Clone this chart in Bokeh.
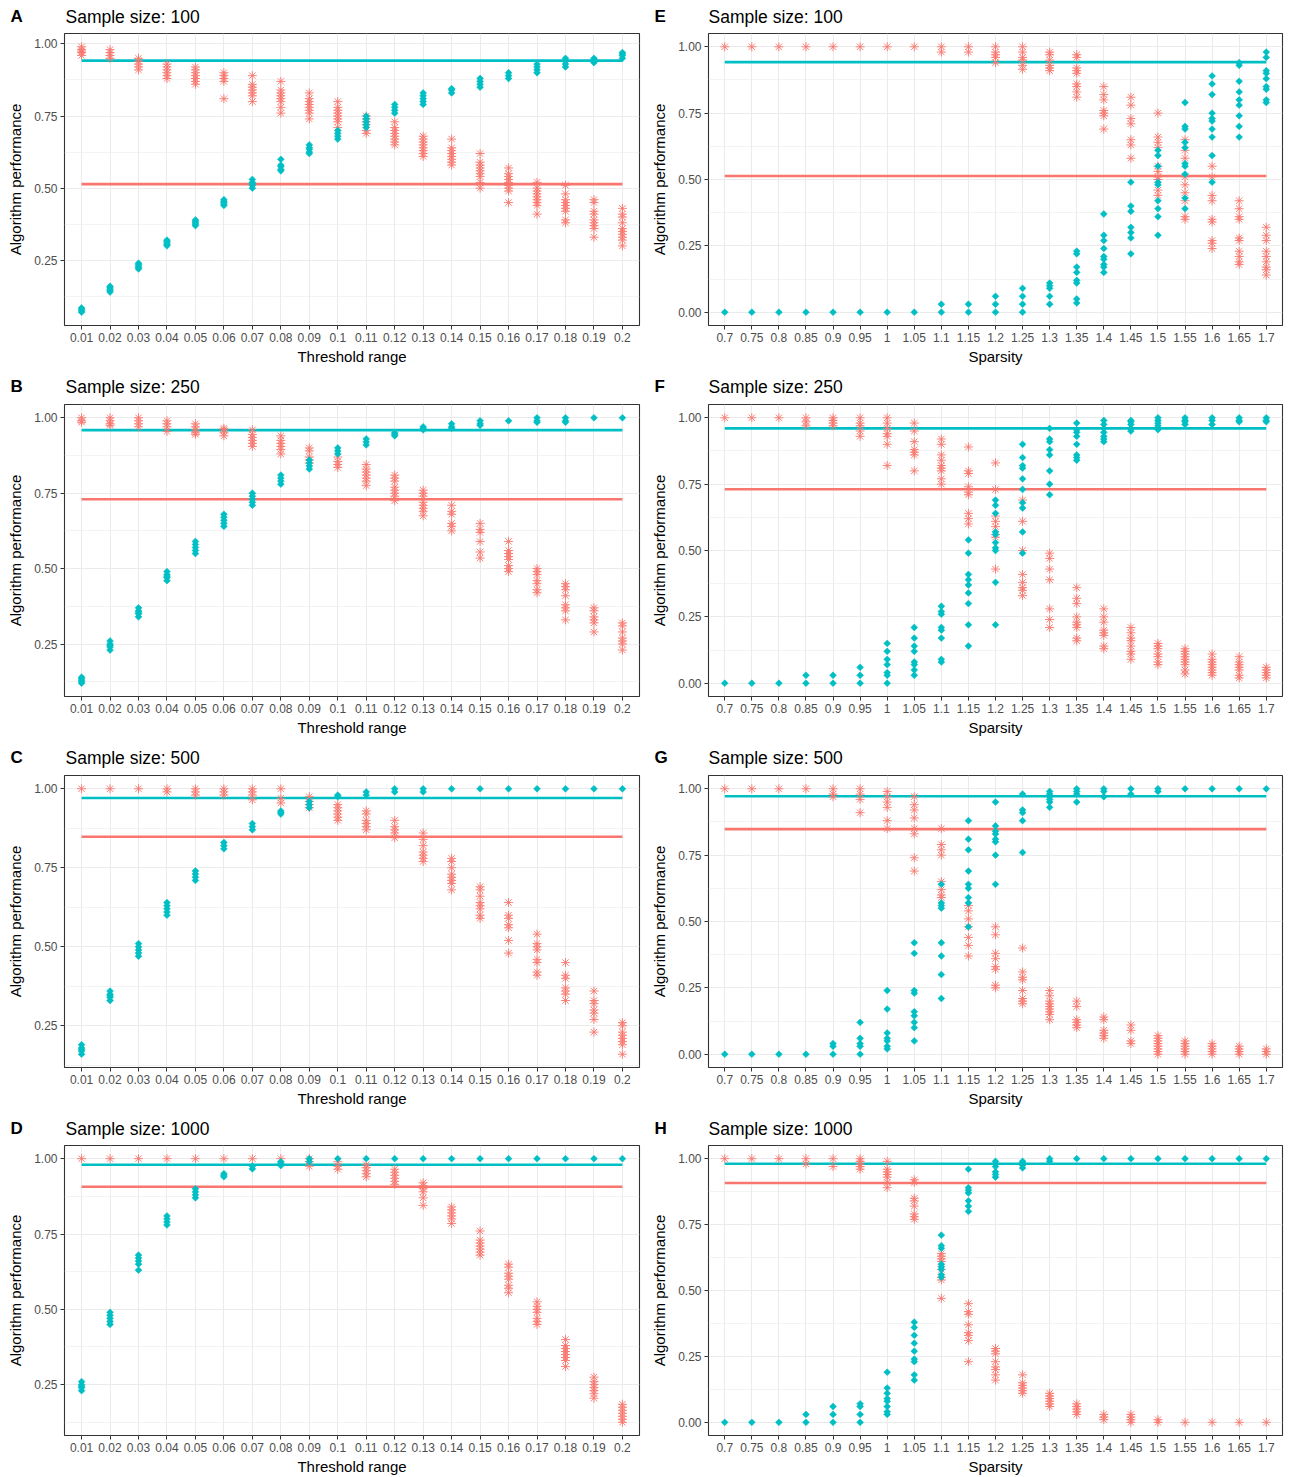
import math
from bokeh.plotting import figure
from bokeh.models import FactorRange, FixedTicker, Range1d, NumeralTickFormatter
from bokeh.layouts import column, row
from bokeh.embed import file_html
from bokeh.resources import INLINE
from bokeh.core.properties import value

# ---------------- data ----------------
thr_cats = ["0.01", "0.02", "0.03", "0.04", "0.05", "0.06", "0.07", "0.08", "0.09", "0.1",
            "0.11", "0.12", "0.13", "0.14", "0.15", "0.16", "0.17", "0.18", "0.19", "0.2"]
sp_cats = ["0.7", "0.75", "0.8", "0.85", "0.9", "0.95", "1", "1.05", "1.1", "1.15", "1.2",
           "1.25", "1.3", "1.35", "1.4", "1.45", "1.5", "1.55", "1.6", "1.65", "1.7"]

left_ticks = [0.25, 0.5, 0.75, 1.0]
left_tick_labels = ["0.25", "0.50", "0.75", "1.00"]
right_ticks = [0.0, 0.25, 0.5, 0.75, 1.0]
right_tick_labels = ["0.00", "0.25", "0.50", "0.75", "1.00"]
minor_ticks = [0.125, 0.375, 0.625, 0.875]

sample_sizes = ["100", "250", "500", "1000"]
left_letters = ["A", "B", "C", "D"]
right_letters = ["E", "F", "G", "H"]
thr_mean_cyan = [0.942, 0.959, 0.971, 0.980]
thr_mean_salmon = [0.514, 0.730, 0.848, 0.907]
sp_mean_cyan = [0.942, 0.960, 0.972, 0.981]
sp_mean_salmon = [0.513, 0.731, 0.848, 0.908]

A_cyan = [[0.07, 0.075, 0.08, 0.085], [0.14, 0.145, 0.15, 0.155, 0.16], [0.22, 0.225, 0.23, 0.235, 0.24],
          [0.30, 0.305, 0.31, 0.315, 0.32], [0.37, 0.375, 0.38, 0.385, 0.39], [0.44, 0.445, 0.45, 0.455, 0.46],
          [0.50, 0.51, 0.515, 0.52, 0.53], [0.56, 0.565, 0.575, 0.58, 0.60], [0.62, 0.625, 0.635, 0.64, 0.65],
          [0.67, 0.68, 0.69, 0.70], [0.71, 0.72, 0.73, 0.74, 0.75], [0.76, 0.77, 0.78, 0.79],
          [0.79, 0.80, 0.81, 0.82, 0.83], [0.83, 0.84, 0.845], [0.85, 0.86, 0.87, 0.88], [0.88, 0.89, 0.90],
          [0.90, 0.91, 0.92, 0.93], [0.92, 0.93, 0.94, 0.95], [0.935, 0.94, 0.945, 0.95], [0.95, 0.96, 0.965, 0.97]]
A_salmon = [[0.96, 0.97, 0.975, 0.98, 0.99], [0.95, 0.96, 0.97, 0.98], [0.91, 0.92, 0.93, 0.94, 0.95],
            [0.88, 0.89, 0.90, 0.91, 0.92, 0.93], [0.86, 0.87, 0.88, 0.89, 0.90, 0.91, 0.92],
            [0.81, 0.87, 0.88, 0.89, 0.90], [0.80, 0.82, 0.83, 0.84, 0.85, 0.86, 0.89],
            [0.76, 0.78, 0.80, 0.81, 0.82, 0.83, 0.84, 0.87], [0.74, 0.76, 0.77, 0.78, 0.79, 0.80, 0.81, 0.83],
            [0.71, 0.73, 0.74, 0.75, 0.76, 0.77, 0.78, 0.80], [0.69, 0.70, 0.72, 0.73, 0.74, 0.75],
            [0.65, 0.66, 0.67, 0.68, 0.69, 0.70, 0.71, 0.73], [0.61, 0.62, 0.63, 0.64, 0.65, 0.66, 0.67, 0.68],
            [0.58, 0.59, 0.60, 0.61, 0.62, 0.63, 0.64, 0.67], [0.50, 0.52, 0.54, 0.55, 0.56, 0.57, 0.58, 0.59, 0.62],
            [0.45, 0.49, 0.50, 0.51, 0.52, 0.53, 0.54, 0.55, 0.57], [0.41, 0.44, 0.45, 0.46, 0.47, 0.48, 0.49, 0.50, 0.52],
            [0.38, 0.39, 0.42, 0.43, 0.44, 0.45, 0.46, 0.48, 0.51], [0.33, 0.36, 0.37, 0.38, 0.39, 0.41, 0.42, 0.45, 0.46],
            [0.30, 0.32, 0.33, 0.34, 0.35, 0.36, 0.38, 0.40, 0.41, 0.43]]

B_cyan = [[0.12, 0.125, 0.13, 0.135, 0.14], [0.23, 0.24, 0.245, 0.25, 0.26], [0.34, 0.35, 0.355, 0.36, 0.37],
          [0.46, 0.47, 0.475, 0.48, 0.49], [0.55, 0.56, 0.57, 0.58, 0.59], [0.64, 0.65, 0.66, 0.67, 0.68],
          [0.71, 0.72, 0.73, 0.74, 0.75], [0.78, 0.79, 0.80, 0.81], [0.83, 0.84, 0.85, 0.86], [0.88, 0.89, 0.90],
          [0.91, 0.92, 0.93], [0.94, 0.945, 0.95], [0.96, 0.965, 0.97], [0.965, 0.97, 0.98], [0.975, 0.98, 0.99],
          [0.99], [0.985, 0.99, 1.0], [0.985, 0.99, 1.0], [1.0], [1.0]]
B_salmon = [[0.985, 0.99, 1.0], [0.975, 0.98, 0.99, 1.0], [0.97, 0.98, 0.99, 1.0], [0.955, 0.97, 0.98, 0.99],
            [0.945, 0.95, 0.96, 0.97, 0.98], [0.94, 0.95, 0.96, 0.965], [0.905, 0.915, 0.925, 0.935, 0.945, 0.96],
            [0.88, 0.895, 0.905, 0.915, 0.925, 0.94], [0.85, 0.86, 0.87, 0.89, 0.90], [0.835, 0.845, 0.855, 0.87],
            [0.775, 0.79, 0.80, 0.81, 0.82, 0.83, 0.845], [0.725, 0.74, 0.75, 0.76, 0.77, 0.79, 0.80, 0.81],
            [0.675, 0.69, 0.70, 0.71, 0.72, 0.74, 0.75, 0.76], [0.625, 0.64, 0.65, 0.68, 0.69, 0.71],
            [0.535, 0.555, 0.59, 0.62, 0.63, 0.65], [0.49, 0.50, 0.51, 0.53, 0.54, 0.55, 0.56, 0.59],
            [0.42, 0.43, 0.45, 0.46, 0.48, 0.49, 0.50], [0.33, 0.36, 0.37, 0.38, 0.41, 0.43, 0.44, 0.45],
            [0.29, 0.32, 0.33, 0.34, 0.36, 0.37], [0.23, 0.25, 0.26, 0.27, 0.29, 0.31, 0.32]]

C_cyan = [[0.16, 0.17, 0.175, 0.18, 0.19], [0.33, 0.34, 0.345, 0.35, 0.36], [0.47, 0.48, 0.49, 0.50, 0.51],
          [0.60, 0.61, 0.62, 0.63, 0.64], [0.71, 0.72, 0.73, 0.74], [0.81, 0.82, 0.83], [0.87, 0.88, 0.89],
          [0.92, 0.925, 0.93], [0.94, 0.95, 0.96], [0.975, 0.98], [0.98, 0.99], [0.99, 1.0], [0.99, 1.0],
          [1.0], [1.0], [1.0], [1.0], [1.0], [1.0], [1.0]]
C_salmon = [[1.0], [1.0], [1.0], [0.99, 1.0], [0.98, 0.99, 1.0], [0.98, 0.99, 1.0], [0.965, 0.98, 0.99, 1.0],
            [0.955, 0.97, 1.0], [0.94, 0.95, 0.96, 0.975], [0.90, 0.91, 0.92, 0.93, 0.94, 0.95],
            [0.87, 0.88, 0.89, 0.90, 0.92, 0.93], [0.845, 0.86, 0.87, 0.88, 0.90],
            [0.77, 0.78, 0.79, 0.80, 0.82, 0.84, 0.86], [0.68, 0.70, 0.71, 0.72, 0.73, 0.75, 0.77, 0.78],
            [0.59, 0.60, 0.62, 0.63, 0.64, 0.66, 0.68, 0.69], [0.48, 0.52, 0.56, 0.57, 0.59, 0.60, 0.64],
            [0.41, 0.42, 0.45, 0.46, 0.49, 0.50, 0.51, 0.54], [0.33, 0.35, 0.36, 0.37, 0.40, 0.41, 0.45],
            [0.23, 0.27, 0.29, 0.30, 0.32, 0.33, 0.36], [0.16, 0.19, 0.20, 0.21, 0.22, 0.23, 0.25, 0.26]]

D_cyan = [[0.23, 0.24, 0.245, 0.25, 0.26], [0.45, 0.46, 0.47, 0.48, 0.49], [0.63, 0.65, 0.66, 0.67, 0.68],
          [0.78, 0.79, 0.80, 0.81], [0.87, 0.88, 0.89, 0.90], [0.94, 0.945, 0.95], [0.966, 0.975],
          [0.977, 0.985, 0.99], [0.99, 1.0], [1.0], [1.0], [1.0], [1.0], [1.0], [1.0], [1.0], [1.0], [1.0],
          [1.0], [1.0]]
D_salmon = [[1.0], [1.0], [1.0], [1.0], [1.0], [1.0], [1.0], [1.0], [0.975, 0.99, 1.0], [0.965, 0.975, 0.99],
            [0.94, 0.95, 0.96, 0.97, 0.98], [0.915, 0.925, 0.935, 0.945, 0.955, 0.965],
            [0.845, 0.87, 0.89, 0.90, 0.91, 0.92], [0.785, 0.80, 0.81, 0.82, 0.83, 0.84],
            [0.68, 0.69, 0.70, 0.71, 0.72, 0.73, 0.76], [0.555, 0.57, 0.58, 0.60, 0.61, 0.62, 0.64, 0.65],
            [0.45, 0.46, 0.47, 0.49, 0.50, 0.51, 0.525], [0.31, 0.33, 0.34, 0.35, 0.36, 0.37, 0.38, 0.40],
            [0.205, 0.22, 0.23, 0.24, 0.25, 0.26, 0.275], [0.125, 0.135, 0.145, 0.155, 0.165, 0.175, 0.185]]

E_cyan = [[0.0], [0.0], [0.0], [0.0], [0.0], [0.0], [0.0], [0.0], [0.0, 0.03], [0.0, 0.03], [0.0, 0.03, 0.06],
          [0.0, 0.03, 0.06, 0.09], [0.03, 0.06, 0.09, 0.10, 0.11],
          [0.035, 0.05, 0.11, 0.12, 0.15, 0.17, 0.22, 0.23], [0.15, 0.17, 0.18, 0.20, 0.21, 0.24, 0.27, 0.29, 0.37],
          [0.22, 0.28, 0.30, 0.32, 0.38, 0.40, 0.49], [0.29, 0.36, 0.39, 0.42, 0.48, 0.49, 0.55, 0.59, 0.61],
          [0.39, 0.43, 0.52, 0.55, 0.56, 0.62, 0.64, 0.69, 0.70, 0.79],
          [0.49, 0.59, 0.66, 0.69, 0.72, 0.73, 0.75, 0.82, 0.86, 0.89],
          [0.66, 0.70, 0.74, 0.78, 0.80, 0.83, 0.87, 0.93, 0.94],
          [0.79, 0.80, 0.84, 0.85, 0.88, 0.90, 0.91, 0.96, 0.98]]
E_salmon = [[1.0], [1.0], [1.0], [1.0], [1.0], [1.0], [1.0], [1.0], [0.98, 1.0], [0.98, 1.0],
            [0.94, 0.96, 0.97, 0.98, 1.0], [0.915, 0.93, 0.95, 0.96, 0.98, 1.0], [0.91, 0.92, 0.93, 0.95, 0.97, 0.98],
            [0.81, 0.83, 0.85, 0.86, 0.90, 0.91, 0.92, 0.96, 0.97], [0.69, 0.74, 0.75, 0.76, 0.80, 0.82, 0.85],
            [0.58, 0.63, 0.65, 0.71, 0.73, 0.78, 0.81], [0.44, 0.46, 0.50, 0.51, 0.53, 0.55, 0.62, 0.64, 0.66, 0.75],
            [0.35, 0.36, 0.42, 0.45, 0.48, 0.51, 0.58, 0.61, 0.65], [0.24, 0.26, 0.27, 0.34, 0.35, 0.42, 0.44, 0.51, 0.55],
            [0.18, 0.19, 0.21, 0.23, 0.27, 0.28, 0.35, 0.36, 0.39, 0.42],
            [0.14, 0.16, 0.17, 0.19, 0.21, 0.23, 0.27, 0.29, 0.32]]

F_cyan = [[0.0], [0.0], [0.0], [0.0, 0.03], [0.0, 0.03], [0.0, 0.03, 0.06], [0.0, 0.03, 0.04, 0.07, 0.09, 0.12, 0.15],
          [0.03, 0.05, 0.07, 0.08, 0.12, 0.14, 0.17, 0.21], [0.08, 0.09, 0.17, 0.20, 0.21, 0.26, 0.27, 0.29],
          [0.14, 0.22, 0.30, 0.34, 0.37, 0.39, 0.41, 0.49, 0.54],
          [0.22, 0.38, 0.50, 0.51, 0.53, 0.56, 0.57, 0.64, 0.67, 0.69],
          [0.49, 0.57, 0.66, 0.68, 0.73, 0.77, 0.81, 0.82, 0.85, 0.90],
          [0.71, 0.75, 0.80, 0.86, 0.88, 0.91, 0.92, 0.96], [0.84, 0.85, 0.86, 0.90, 0.93, 0.945, 0.955, 0.98],
          [0.91, 0.92, 0.93, 0.945, 0.96, 0.975, 0.99], [0.95, 0.96, 0.975, 0.985, 0.99],
          [0.955, 0.97, 0.98, 0.99, 1.0], [0.975, 0.985, 0.99, 1.0], [0.975, 0.99, 1.0], [0.985, 0.99, 1.0],
          [0.985, 0.99, 1.0]]
F_salmon = [[1.0], [1.0], [1.0], [0.97, 0.985, 1.0], [0.97, 0.98, 0.99, 1.0], [0.93, 0.95, 0.97, 0.98, 1.0],
            [0.82, 0.90, 0.93, 0.94, 0.96, 0.98, 1.0], [0.80, 0.86, 0.87, 0.88, 0.91, 0.95, 0.98],
            [0.75, 0.77, 0.80, 0.81, 0.82, 0.84, 0.86, 0.90, 0.92], [0.60, 0.62, 0.64, 0.71, 0.72, 0.74, 0.79, 0.80, 0.89],
            [0.43, 0.55, 0.56, 0.59, 0.61, 0.63, 0.73, 0.83], [0.33, 0.35, 0.36, 0.38, 0.41, 0.50, 0.61, 0.69],
            [0.21, 0.24, 0.28, 0.39, 0.43, 0.47, 0.49], [0.16, 0.17, 0.21, 0.22, 0.23, 0.25, 0.30, 0.32, 0.36],
            [0.13, 0.14, 0.18, 0.19, 0.20, 0.23, 0.25, 0.28], [0.09, 0.11, 0.12, 0.14, 0.16, 0.17, 0.19, 0.21],
            [0.07, 0.08, 0.10, 0.11, 0.13, 0.14, 0.15], [0.035, 0.05, 0.07, 0.08, 0.09, 0.10, 0.11, 0.12, 0.13],
            [0.03, 0.04, 0.05, 0.06, 0.07, 0.08, 0.09, 0.11], [0.02, 0.03, 0.05, 0.06, 0.07, 0.08, 0.10],
            [0.02, 0.03, 0.04, 0.05, 0.06]]

G_cyan = [[0.0], [0.0], [0.0], [0.0], [0.0, 0.03, 0.04], [0.0, 0.03, 0.04, 0.06, 0.12],
          [0.02, 0.03, 0.05, 0.06, 0.08, 0.17, 0.24], [0.05, 0.10, 0.12, 0.145, 0.16, 0.23, 0.24, 0.38, 0.42],
          [0.21, 0.30, 0.37, 0.42, 0.55, 0.56, 0.57, 0.64], [0.48, 0.57, 0.59, 0.625, 0.64, 0.69, 0.77, 0.81, 0.88],
          [0.64, 0.75, 0.80, 0.81, 0.83, 0.84, 0.86, 0.95], [0.76, 0.88, 0.91, 0.92, 0.98],
          [0.93, 0.95, 0.96, 0.97, 0.98, 0.99], [0.95, 0.98, 0.99, 1.0], [0.97, 0.99, 1.0], [0.98, 1.0],
          [0.99, 1.0], [1.0], [1.0], [1.0], [1.0]]
G_salmon = [[1.0], [1.0], [1.0], [1.0], [0.97, 0.98, 1.0], [0.91, 0.96, 0.98, 1.0],
            [0.85, 0.88, 0.93, 0.95, 0.97, 0.99], [0.69, 0.74, 0.83, 0.85, 0.89, 0.92, 0.94, 0.97],
            [0.59, 0.60, 0.62, 0.65, 0.75, 0.77, 0.79, 0.85], [0.37, 0.41, 0.44, 0.48, 0.51, 0.54, 0.56],
            [0.25, 0.26, 0.32, 0.33, 0.36, 0.38, 0.45, 0.48], [0.19, 0.20, 0.21, 0.24, 0.28, 0.29, 0.31, 0.40],
            [0.13, 0.15, 0.16, 0.17, 0.18, 0.19, 0.20, 0.22, 0.24], [0.10, 0.11, 0.12, 0.13, 0.18, 0.20],
            [0.06, 0.07, 0.08, 0.09, 0.13, 0.14], [0.04, 0.05, 0.09, 0.11],
            [0.0, 0.01, 0.02, 0.03, 0.04, 0.05, 0.06, 0.07], [0.0, 0.01, 0.02, 0.03, 0.04, 0.05],
            [0.0, 0.01, 0.02, 0.03, 0.04], [0.0, 0.01, 0.02, 0.03], [0.0, 0.01, 0.02]]

H_cyan = [[0.0], [0.0], [0.0], [0.0, 0.03], [0.0, 0.03, 0.06], [0.0, 0.03, 0.06, 0.07],
          [0.03, 0.04, 0.06, 0.08, 0.09, 0.11, 0.13, 0.19], [0.16, 0.18, 0.23, 0.24, 0.27, 0.30, 0.33, 0.36, 0.38],
          [0.55, 0.56, 0.58, 0.59, 0.60, 0.66, 0.67, 0.71], [0.80, 0.82, 0.84, 0.87, 0.88, 0.89, 0.96],
          [0.93, 0.94, 0.95, 0.97, 0.98, 0.99], [0.965, 0.975, 0.985, 0.99], [0.99, 1.0],
          [1.0], [1.0], [1.0], [1.0], [1.0], [1.0], [1.0], [1.0]]
H_salmon = [[1.0], [1.0], [1.0], [0.98, 1.0], [0.97, 1.0], [0.96, 0.97, 0.98, 0.99, 1.0],
            [0.89, 0.91, 0.93, 0.94, 0.95, 0.96, 0.99], [0.77, 0.78, 0.79, 0.82, 0.84, 0.85, 0.91, 0.92],
            [0.47, 0.54, 0.55, 0.58, 0.61, 0.62, 0.63, 0.64], [0.23, 0.31, 0.33, 0.34, 0.37, 0.41, 0.42, 0.45],
            [0.16, 0.18, 0.20, 0.21, 0.23, 0.26, 0.27, 0.28], [0.11, 0.12, 0.13, 0.14, 0.15, 0.18],
            [0.06, 0.07, 0.08, 0.09, 0.10, 0.11], [0.03, 0.04, 0.05, 0.06, 0.07], [0.01, 0.02, 0.03],
            [0.0, 0.01, 0.02, 0.03], [0.0, 0.01], [0.0], [0.0], [0.0], [0.0]]

# ---------------- styling / layout ----------------
CYAN = "#00BFC4"
SALMON = "#F8766D"
FONT = "Liberation Sans"
GRID = "#EBEBEB"
COL_W = 645
HEADER_H = [28, 29, 29, 28]
BODY_TOP = 5
BODY_BOTTOM = [45, 45, 45, 40]
FRAME_H = 292


def flatten(cats, groups):
    xs, ys = [], []
    for c, vals in zip(cats, groups):
        for v in vals:
            xs.append(c)
            ys.append(v)
    return xs, ys


def header(r):
    h = HEADER_H[r]
    p = figure(width=2 * COL_W, height=h, x_range=Range1d(0, 2 * COL_W), y_range=Range1d(0, h),
               x_axis_type=None, y_axis_type=None, output_backend="svg", toolbar_location=None,
               min_border_left=0, min_border_right=0, min_border_top=0, min_border_bottom=0)
    p.outline_line_color = None
    p.background_fill_color = "white"
    p.border_fill_color = "white"
    yc = h - 16
    p.text(x=[10, COL_W + 9], y=[yc, yc], text=[left_letters[r], right_letters[r]],
           text_font=value(FONT), text_font_size=value("17px"), text_font_style="bold",
           text_baseline="middle", text_align="left", text_color="black")
    p.text(x=[65, COL_W + 63], y=[yc, yc],
           text=["Sample size: " + sample_sizes[r], "Sample size: " + sample_sizes[r]],
           text_font=value(FONT), text_font_size=value("17.5px"),
           text_baseline="middle", text_align="left", text_color="black")
    return p


def panel(cats, xlabel, cyan, salmon, m_cyan, m_salmon, left_col, r):
    allv = [v for g in cyan + salmon for v in g]
    lo, hi = min(allv), max(allv)
    pad = 0.05 * (hi - lo)
    bottom = BODY_BOTTOM[r]
    p = figure(x_range=FactorRange(factors=cats, range_padding=0.1, range_padding_units="absolute"),
               y_range=Range1d(lo - pad, hi + pad),
               width=COL_W, height=BODY_TOP + FRAME_H + bottom,
               output_backend="svg", toolbar_location=None,
               min_border_left=64 if left_col else 63, min_border_right=6 if left_col else 8,
               min_border_top=BODY_TOP, min_border_bottom=bottom)
    p.background_fill_color = "white"
    p.border_fill_color = "white"
    p.outline_line_color = "#333333"
    p.outline_line_width = 1.1

    ticks = left_ticks if left_col else right_ticks
    tlabels = left_tick_labels if left_col else right_tick_labels
    p.yaxis.ticker = FixedTicker(ticks=ticks, minor_ticks=minor_ticks)
    p.yaxis.formatter = NumeralTickFormatter(format="0.00")
    p.yaxis.major_label_overrides = {t: l for t, l in zip(ticks, tlabels)}

    p.xgrid.grid_line_color = GRID
    p.xgrid.grid_line_width = 1.1
    p.ygrid.grid_line_color = GRID
    p.ygrid.grid_line_width = 1.1
    p.ygrid.minor_grid_line_color = GRID
    p.ygrid.minor_grid_line_width = 0.6

    for ax in (p.xaxis[0], p.yaxis[0]):
        ax.axis_line_color = None
        ax.major_tick_line_color = "#333333"
        ax.major_tick_line_width = 1
        ax.major_tick_out = 4
        ax.major_tick_in = 0
        ax.minor_tick_line_color = None
        ax.major_label_text_font = FONT
        ax.major_label_text_font_size = "12px"
        ax.major_label_text_color = "#4D4D4D"
        ax.major_label_standoff = 3
        ax.axis_label_text_font = FONT
        ax.axis_label_text_font_size = "15px"
        ax.axis_label_text_font_style = "normal"
        ax.axis_label_text_color = "black"
    p.xaxis.axis_label = xlabel
    p.xaxis.axis_label_standoff = 3
    p.yaxis.axis_label = "Algorithm performance"
    p.yaxis.axis_label_standoff = 7

    # mean lines
    p.line(x=[cats[0], cats[-1]], y=[m_salmon, m_salmon], line_color=SALMON, line_width=2.6)
    p.line(x=[cats[0], cats[-1]], y=[m_cyan, m_cyan], line_color=CYAN, line_width=2.6)

    sx, sy = flatten(cats, salmon)
    p.scatter(x=sx, y=sy, marker="asterisk", size=9, line_color=SALMON, line_width=1, line_alpha=0.9)
    cx, cy = flatten(cats, cyan)
    p.scatter(x=cx, y=cy, marker="square", angle=math.pi / 4, size=4.8,
              fill_color=CYAN, line_color=CYAN, line_width=0.6)
    return p


left_data = [(A_cyan, A_salmon), (B_cyan, B_salmon), (C_cyan, C_salmon), (D_cyan, D_salmon)]
right_data = [(E_cyan, E_salmon), (F_cyan, F_salmon), (G_cyan, G_salmon), (H_cyan, H_salmon)]

items = []
for r in range(4):
    lc, ls = left_data[r]
    rc, rs = right_data[r]
    pl = panel(thr_cats, "Threshold range", lc, ls, thr_mean_cyan[r], thr_mean_salmon[r], True, r)
    pr = panel(sp_cats, "Sparsity", rc, rs, sp_mean_cyan[r], sp_mean_salmon[r], False, r)
    items.append(header(r))
    items.append(row(pl, pr))

layout = column(*items)
open("out.html", "w").write(file_html(layout, INLINE))
